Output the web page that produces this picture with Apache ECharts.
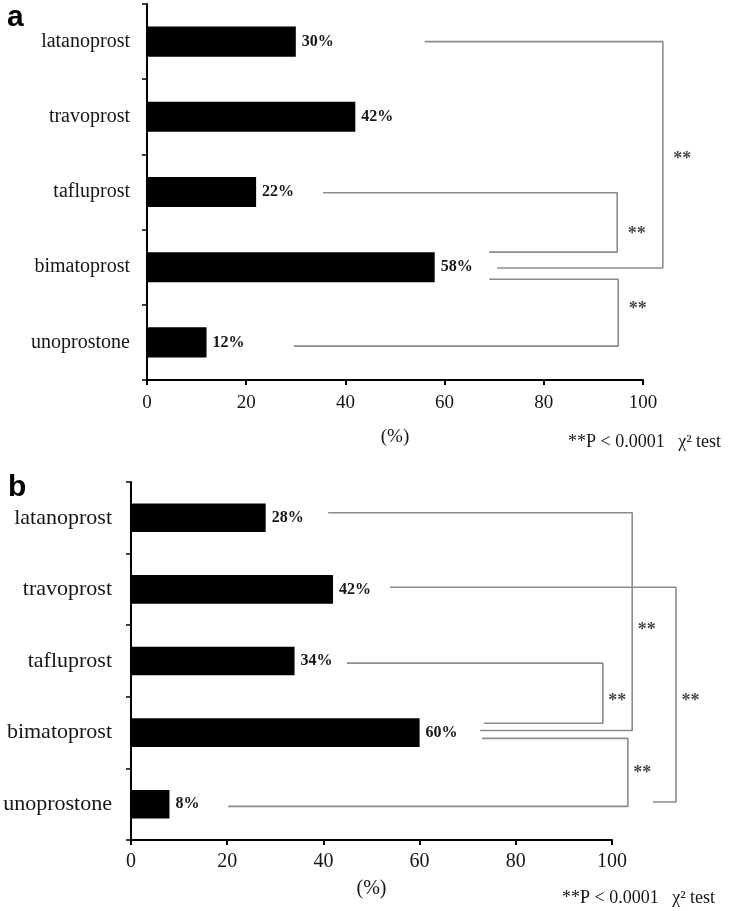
<!DOCTYPE html>
<html><head><meta charset="utf-8">
<script src="https://cdn.jsdelivr.net/npm/echarts/dist/echarts.min.js"></script>
<style>html,body{margin:0;padding:0;background:#fff}#c{width:731px;height:911px}</style>
</head><body><div id="c"></div>
<script>
// ---- data ----
const categories = ['latanoprost', 'travoprost', 'tafluprost', 'bimatoprost', 'unoprostone'];
const valuesA = [30, 42, 22, 58, 12];
const valuesB = [28, 42, 34, 60, 8];
const xMin = 0, xMax = 100, xStep = 20;
const comparisonsA = [['latanoprost', 'bimatoprost'], ['tafluprost', 'bimatoprost'], ['bimatoprost', 'unoprostone']];
const comparisonsB = [['latanoprost', 'bimatoprost'], ['travoprost', 'unoprostone'], ['tafluprost', 'bimatoprost'], ['bimatoprost', 'unoprostone']];
const sigLabel = '**';
const axisName = '(%)';
const footnote = '**P < 0.0001   χ² test';
const panelLetters = ['a', 'b'];

// ---- layout (bracket geometry, in axis units / band offsets) ----
const bracketLayoutA = [
  {top: 56.0, bottom: 70.6, vert: 104.0, dyTop: 0.0, dyBot: 0.01},
  {top: 35.5, bottom: 69.0, vert: 94.8, dyTop: 0.01, dyBot: -0.2},
  {top: 69.0, bottom: 29.6, vert: 95.0, dyTop: 0.16, dyBot: 0.05}
];
const bracketLayoutB = [
  {top: 41.0, bottom: 72.6, vert: 104.2, dyTop: -0.07, dyBot: -0.03},
  {top: 53.8, bottom: 108.5, vert: 113.3, dyTop: -0.03, dyBot: -0.03},
  {top: 44.9, bottom: 73.4, vert: 98.1, dyTop: 0.03, dyBot: -0.13},
  {top: 73.0, bottom: 20.2, vert: 103.3, dyTop: 0.08, dyBot: 0.03}
];
const EXT = 1.15; // overlay grid extends the same scale past 100

const SERIF = '"Liberation Serif", "Times New Roman", serif';
const SANS = '"Liberation Sans", Arial, sans-serif';
const INK = '#161616';
const GRAY = '#8c8c8c';

const gridA = {left: 147, top: 4, width: 496, height: 376};
const gridB = {left: 131, top: 482, width: 481, height: 358};

function xAxisCfg(gridIndex, fontSize, margin, nameGap) {
  return {
    type: 'value', gridIndex, min: xMin, max: xMax, interval: xStep,
    name: axisName, nameLocation: 'middle', nameGap,
    nameTextStyle: {fontFamily: SERIF, fontSize: fontSize, color: INK},
    axisLine: {show: true, onZero: false, lineStyle: {color: '#000', width: 2}},
    axisTick: {show: true, length: 5, lineStyle: {color: '#000', width: 2}},
    axisLabel: {fontFamily: SERIF, fontSize, color: INK, margin},
    splitLine: {show: false}
  };
}
function hiddenX(gridIndex) {
  return {type: 'value', gridIndex, min: xMin, max: xMax * EXT, show: false};
}
function catAxisCfg(gridIndex, fontSize, margin) {
  return {
    type: 'category', gridIndex, data: categories, inverse: true,
    axisLine: {show: true, onZero: false, lineStyle: {color: '#000', width: 2}},
    axisTick: {show: true, length: 5, lineStyle: {color: '#000', width: 1.5}},
    axisLabel: {fontFamily: SERIF, fontSize, color: INK, margin},
    splitLine: {show: false}
  };
}
function hiddenY(gridIndex) {
  return {type: 'value', gridIndex, min: -0.5, max: categories.length - 0.5, inverse: true, show: false};
}
function barSeries(values, xi, yi) {
  return {
    type: 'bar', xAxisIndex: xi, yAxisIndex: yi, data: values, barWidth: '40%',
    itemStyle: {color: '#000'}, silent: true,
    label: {show: true, position: 'right', distance: 6, formatter: '{c}%',
      fontFamily: SERIF, fontWeight: 'bold', fontSize: 16, color: INK}
  };
}
function bracketSeries(comps, layout, xi, yi, starDist) {
  const out = [];
  comps.forEach((pair, k) => {
    const L = layout[k];
    const i0 = categories.indexOf(pair[0]);
    const i1 = categories.indexOf(pair[1]);
    const y0 = i0 + L.dyTop, y1 = i1 + L.dyBot;
    out.push({
      type: 'line', xAxisIndex: xi, yAxisIndex: yi, silent: true,
      symbol: 'none', animation: false,
      lineStyle: {color: GRAY, width: 1.6},
      data: [[L.top, y0], [L.vert, y0], [L.vert, y1], [L.bottom, y1]]
    });
    out.push({
      type: 'scatter', xAxisIndex: xi, yAxisIndex: yi, silent: true,
      symbolSize: 1, itemStyle: {color: 'rgba(0,0,0,0)'}, animation: false,
      data: [[L.vert, (i0 + i1) / 2]],
      label: {show: true, position: 'right', distance: starDist, offset: [0, 5],
        formatter: sigLabel, fontFamily: SERIF, fontWeight: 'bold', fontSize: 18, color: INK}
    });
  });
  return out;
}

const chart = echarts.init(document.getElementById('c'), null, {renderer: 'canvas'});
chart.setOption({
  animation: false,
  backgroundColor: '#fff',
  title: [
    {text: panelLetters[0], left: 2, top: -2, textStyle: {fontFamily: SANS, fontWeight: 'bold', fontSize: 30, color: '#000'}},
    {text: panelLetters[1], left: 3, top: 468, textStyle: {fontFamily: SANS, fontWeight: 'bold', fontSize: 30, color: '#000'}},
    {text: footnote, left: 563, top: 428, textStyle: {fontFamily: SERIF, fontWeight: 'normal', fontSize: 18, color: INK}},
    {text: footnote, left: 557, top: 884, textStyle: {fontFamily: SERIF, fontWeight: 'normal', fontSize: 18, color: INK}}
  ],
  grid: [
    gridA,
    Object.assign({}, gridA, {width: gridA.width * EXT}),
    gridB,
    Object.assign({}, gridB, {width: gridB.width * EXT})
  ],
  xAxis: [xAxisCfg(0, 19, 14, 48), hiddenX(1), xAxisCfg(2, 20, 12, 39), hiddenX(3)],
  yAxis: [catAxisCfg(0, 20, 17), hiddenY(1), catAxisCfg(2, 22, 19), hiddenY(3)],
  series: [
    barSeries(valuesA, 0, 0),
    ...bracketSeries(comparisonsA, bracketLayoutA, 1, 1, 10),
    barSeries(valuesB, 2, 2),
    ...bracketSeries(comparisonsB, bracketLayoutB, 3, 3, 5)
  ]
});
</script>
</body></html>
